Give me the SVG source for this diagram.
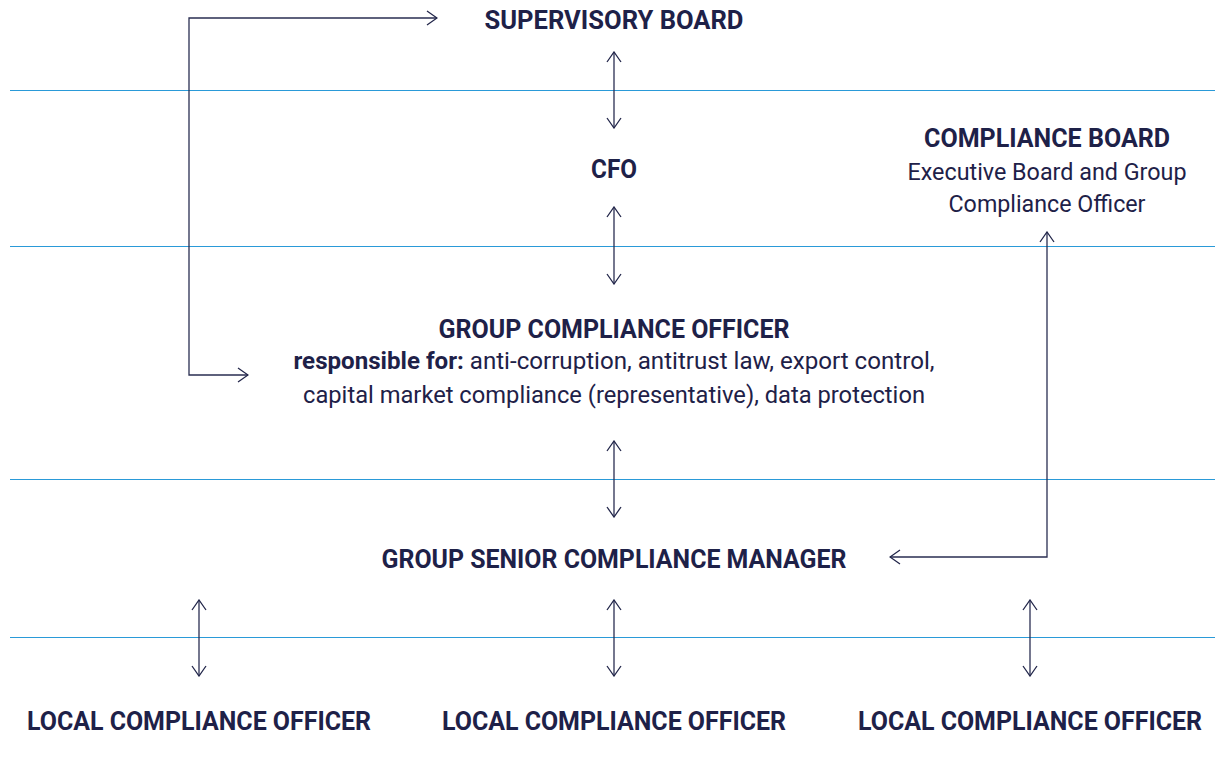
<svg xmlns="http://www.w3.org/2000/svg" width="1215" height="783" viewBox="0 0 1215 783">
<defs>
<marker id="ah" viewBox="0 0 12 16" refX="11" refY="8" markerWidth="12" markerHeight="16" markerUnits="userSpaceOnUse" orient="auto-start-reverse">
<path d="M1,1 L11,8 L1,15" fill="none" stroke="#22264a" stroke-width="1.3"/>
</marker>
<style>
.sep{stroke:#2a9ad8;stroke-width:1.2}
.con{fill:none;stroke:#2a2e52;stroke-width:1.3}
.t{font-family:Roboto,"Liberation Sans",sans-serif;fill:#1e2148;text-anchor:middle}
.b{font-weight:bold;font-size:25px}
.r{font-size:23px}
</style>
</defs>
<rect width="1215" height="783" fill="#fff"/>
<g id="separators">
<line class="sep" x1="10" y1="90.5" x2="1215" y2="90.5"/>
<line class="sep" x1="10" y1="246.5" x2="1215" y2="246.5"/>
<line class="sep" x1="10" y1="479.5" x2="1215" y2="479.5"/>
<line class="sep" x1="10" y1="637.5" x2="1215" y2="637.5"/>
</g>
<g id="connectors">
<line class="con" x1="614" y1="52" x2="614" y2="128" marker-start="url(#ah)" marker-end="url(#ah)"/>
<line class="con" x1="614" y1="207" x2="614" y2="284" marker-start="url(#ah)" marker-end="url(#ah)"/>
<line class="con" x1="614" y1="441" x2="614" y2="517" marker-start="url(#ah)" marker-end="url(#ah)"/>
<line class="con" x1="199" y1="600" x2="199" y2="676" marker-start="url(#ah)" marker-end="url(#ah)"/>
<line class="con" x1="614" y1="600" x2="614" y2="676" marker-start="url(#ah)" marker-end="url(#ah)"/>
<line class="con" x1="1030" y1="600" x2="1030" y2="676" marker-start="url(#ah)" marker-end="url(#ah)"/>
<polyline class="con" points="437,18 189,18 189,375 248,375" marker-start="url(#ah)" marker-end="url(#ah)"/>
<polyline class="con" points="1047,232 1047,557 890,557" marker-start="url(#ah)" marker-end="url(#ah)"/>
</g>
<g id="supervisory-board"><text class="t b" x="614" y="29" textLength="259" lengthAdjust="spacingAndGlyphs">SUPERVISORY BOARD</text></g>
<g id="cfo"><text class="t b" x="614" y="178" textLength="46" lengthAdjust="spacingAndGlyphs">CFO</text></g>
<g id="compliance-board">
<text class="t b" x="1047" y="147" textLength="246" lengthAdjust="spacingAndGlyphs">COMPLIANCE BOARD</text>
<text class="t r" x="1047" y="180" textLength="279" lengthAdjust="spacingAndGlyphs">Executive Board and Group</text>
<text class="t r" x="1047" y="212" textLength="197" lengthAdjust="spacingAndGlyphs">Compliance Officer</text>
</g>
<g id="group-compliance-officer">
<text class="t b" x="614" y="338" textLength="351" lengthAdjust="spacingAndGlyphs">GROUP COMPLIANCE OFFICER</text>
<text class="t r" x="614" y="369" textLength="641" lengthAdjust="spacingAndGlyphs"><tspan font-weight="bold">responsible for:</tspan> anti-corruption, antitrust law, export control,</text>
<text class="t r" x="614" y="403" textLength="622" lengthAdjust="spacingAndGlyphs">capital market compliance (representative), data protection</text>
</g>
<g id="group-senior-compliance-manager"><text class="t b" x="614" y="568" textLength="465" lengthAdjust="spacingAndGlyphs">GROUP SENIOR COMPLIANCE MANAGER</text></g>
<g id="local-1"><text class="t b" x="199" y="730" textLength="344" lengthAdjust="spacingAndGlyphs">LOCAL COMPLIANCE OFFICER</text></g>
<g id="local-2"><text class="t b" x="614" y="730" textLength="344" lengthAdjust="spacingAndGlyphs">LOCAL COMPLIANCE OFFICER</text></g>
<g id="local-3"><text class="t b" x="1030" y="730" textLength="344" lengthAdjust="spacingAndGlyphs">LOCAL COMPLIANCE OFFICER</text></g>
</svg>
